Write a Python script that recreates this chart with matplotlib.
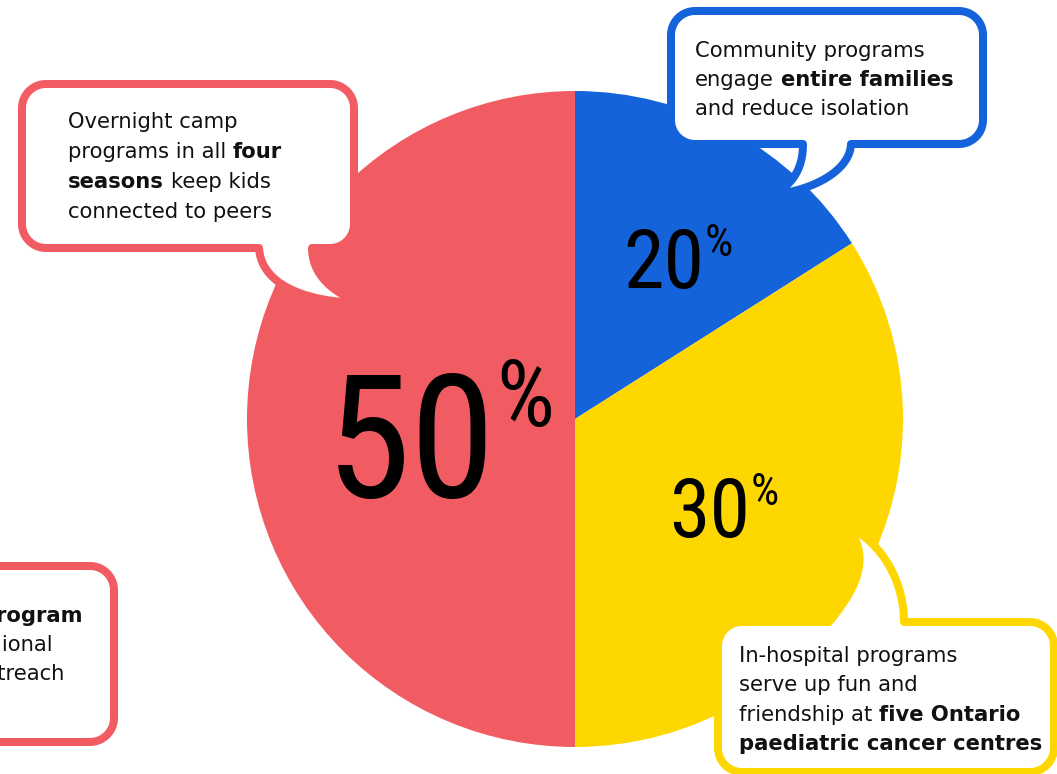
import numpy as np
import matplotlib
matplotlib.use('Agg')
import matplotlib.pyplot as plt
from matplotlib import font_manager
from matplotlib.patches import Polygon

W, H = 1057, 774

# ---------------- data ----------------
categories = ['Community programs', 'In-hospital programs', 'Overnight camp programs']
slice_sizes = [16, 34, 50]          # slice sizes as drawn in the picture
slice_labels = ['20', '30', '50']   # printed labels (with %)
slice_colors = ['#1563DA', '#FFD700', '#F15C62']

callout_community = [[('Community programs', False)],
                     [('engage ', False), ('entire families', True)],
                     [('and reduce isolation', False)]]
callout_camp = [[('Overnight camp', False)],
                [('programs in all ', False), ('four', True)],
                [('seasons', True), (' keep kids', False)],
                [('connected to peers', False)]]
callout_hospital = [[('In-hospital programs', False)],
                    [('serve up fun and', False)],
                    [('friendship at ', False), ('five Ontario', True)],
                    [('paediatric cancer centres', True)]]
callout_outreach = [('Outreach program', True), ('and regional', False), ('outreach', False)]

# ---------------- fonts ----------------
names = {f.name for f in font_manager.fontManager.ttflist}
TXT_FONT = 'DejaVu Sans'
NUM_FONT = next((n for n in ['Liberation Sans Narrow', 'Roboto Condensed', 'DejaVu Sans Condensed',
                             'DejaVu Sans'] if n in names), 'DejaVu Sans')

fig = plt.figure(figsize=(W / 100, H / 100), dpi=100)
ax = fig.add_axes([0, 0, 1, 1])

def Y(y):
    return H - y

# ---------------- pie ----------------
cx, cy, R = 575, 419, 328
ax.pie(slice_sizes, colors=slice_colors, startangle=90, counterclock=False,
       center=(cx, Y(cy)), radius=R, wedgeprops=dict(linewidth=0), frame=True)

# ---------------- callouts ----------------
BW = 8  # border width in px
LW = BW * 72 / 100

def bez(p0, p1, p2, p3, n=40):
    t = np.linspace(0, 1, n)[:, None]
    p0, p1, p2, p3 = (np.array(p, float) for p in (p0, p1, p2, p3))
    return (1 - t) ** 3 * p0 + 3 * (1 - t) ** 2 * t * p1 + 3 * (1 - t) * t ** 2 * p2 + t ** 3 * p3

def arc(cxa, cya, r, a0, a1, n=16):
    a = np.radians(np.linspace(a0, a1, n))
    return np.column_stack([cxa + r * np.cos(a), cya + r * np.sin(a)])

def bubble(x0, y0, x1, y1, r, color, tail=None, edge=None):
    """Outline in image coords (y down), clockwise on screen."""
    if tail is not None:
        c1 = bez(*tail[:4])
        c2 = bez(*tail[4:])
    segs = [np.array([[x0 + r, y0]])]
    if edge == 'top':
        segs += [c1, c2]
    segs.append(np.array([[x1 - r, y0]]))
    segs.append(arc(x1 - r, y0 + r, r, -90, 0))
    segs.append(arc(x1 - r, y1 - r, r, 0, 90))
    if edge == 'bottom':
        segs += [c1, c2]
    segs.append(arc(x0 + r, y1 - r, r, 90, 180))
    segs.append(arc(x0 + r, y0 + r, r, 180, 270))
    pts = np.vstack(segs)
    pts[:, 1] = H - pts[:, 1]
    ax.add_patch(Polygon(pts, closed=True, facecolor='white', edgecolor=color, lw=LW,
                         joinstyle='round', zorder=4))

red, blue, yellow = slice_colors[2], slice_colors[0], slice_colors[1]

# top-left (camp): tail on bottom edge, traversed right base -> tip -> left base
bubble(22, 84, 354, 248, 24, red,
       [(312, 248), (312, 274), (332, 293), (362, 303),
        (362, 303), (300, 302), (261, 282), (259, 248)], edge='bottom')
# top-right (community)
bubble(671, 11, 983, 144, 24, blue,
       [(851, 144), (850, 170), (815, 190), (772, 195),
        (772, 195), (793, 185), (803, 168), (803, 144)], edge='bottom')
# bottom-right (hospital): tail on top edge, traversed left base -> tip -> right base
bubble(718, 622, 1054, 772, 24, yellow,
       [(829, 622), (855, 590), (872, 560), (848, 526),
        (848, 526), (888, 547), (904, 588), (904, 622)], edge='top')
# bottom-left (outreach)
bubble(-100, 566, 114, 742, 24, red)

FS = 15.2
TXT_COLOR = '#111111'

def write_lines(x, y0, step, lines):
    for i, pieces in enumerate(lines):
        prev = None
        gap = 0
        for txt, bold in pieces:
            w = 'bold' if bold else 'normal'
            lead = txt.startswith(' ')
            trail = txt.endswith(' ')
            t = txt.strip()
            if prev is None:
                prev = ax.text(x, Y(y0 + i * step), t, fontsize=FS, fontweight=w,
                               family=TXT_FONT, ha='left', va='baseline', zorder=6, color=TXT_COLOR)
            else:
                g = gap + (0.32 * FS if lead else 0)
                prev = ax.annotate(t, xy=(1, 0), xycoords=prev, xytext=(g, 0),
                                   textcoords='offset points', fontsize=FS, fontweight=w,
                                   family=TXT_FONT, ha='left', va='bottom', zorder=6,
                                   color=TXT_COLOR)
            gap = 0.32 * FS if trail else 0

write_lines(68, 128, 30, callout_camp)
write_lines(695, 57, 29, callout_community)
write_lines(739, 662, 29.3, callout_hospital)

out_right = [83, 53, 65]
for i, (txt, bold) in enumerate(callout_outreach):
    ax.text(out_right[i], Y(622 + i * 29), txt, fontsize=FS, fontweight='bold' if bold else 'normal',
            family=TXT_FONT, ha='right', va='baseline', zorder=6, color=TXT_COLOR)

# ---------------- percentage labels ----------------
# (label, centre x of digits, baseline y, digit size, percent size, gap x, lift y)
label_pos = {'50': (411, 497, 124, 66, 0, 8),
             '20': (664, 288, 59, 32, 0, 3),
             '30': (710, 537, 59, 32, 0, 3)}
for lab in slice_labels:
    x, y, s1, s2, gx, gy = label_pos[lab]
    t = ax.text(x, Y(y), lab, fontsize=s1, family=NUM_FONT, ha='center', va='baseline',
                color='black', zorder=2)
    ax.annotate('%', xy=(1, 1), xycoords=t, xytext=(gx, gy), textcoords='offset points',
                fontsize=s2, family=NUM_FONT, ha='left', va='top', color='black', zorder=2)

ax.set_xlim(0, W)
ax.set_ylim(0, H)
ax.set_aspect('auto')
ax.axis('off')

fig.savefig('out.png', dpi=100)
